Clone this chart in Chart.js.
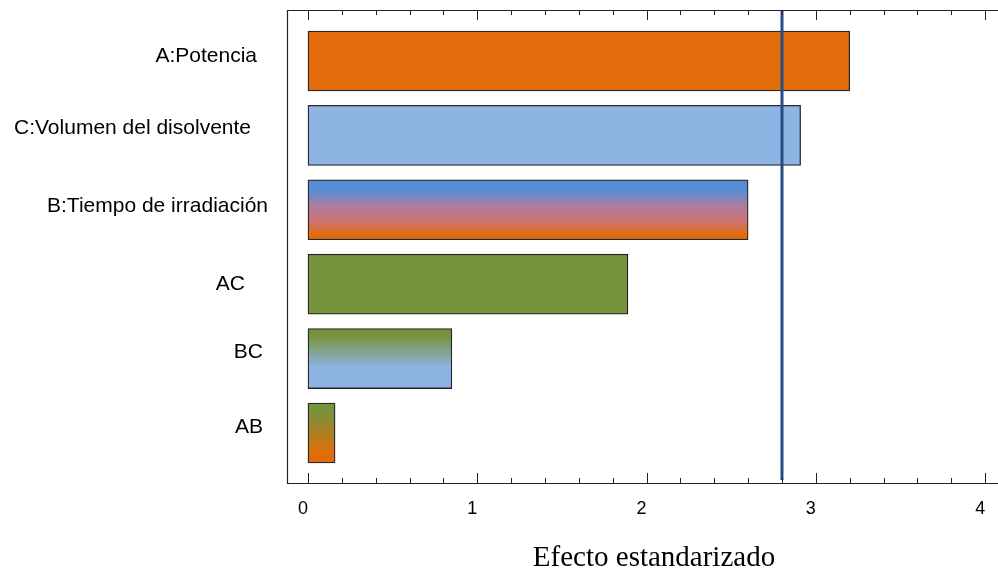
<!DOCTYPE html>
<html>
<head>
<meta charset="utf-8">
<script src="https://cdn.jsdelivr.net/npm/chart.js@4.4.1/dist/chart.umd.min.js"></script>
<style>
  html, body { margin: 0; padding: 0; background: #fff; overflow: hidden; }
  #wrap { width: 998px; height: 572px; position: relative; }
</style>
</head>
<body>
<div id="wrap"><canvas id="pareto"></canvas></div>
<script>
// data
const categories = ['A:Potencia', 'C:Volumen del disolvente', 'B:Tiempo de irradiación', 'AC', 'BC', 'AB'];
const effects = [3.20, 2.91, 2.60, 1.89, 0.85, 0.16];
const criticalValue = 2.80;
const xTickLabels = [0, 1, 2, 3, 4];
const axisTitle = 'Efecto estandarizado';

// styles
const orange = '#E36C0A', lightBlue = '#8EB4E3', blue = '#558ED5', olive = '#77933C';
const barFills = [
  [[0, orange], [1, orange]],
  [[0, lightBlue], [1, lightBlue]],
  [[0, blue], [0.18, blue], [0.45, '#B07C9C'], [0.72, '#D0736A'], [0.92, orange], [1, orange]],
  [[0, olive], [1, olive]],
  [[0, olive], [0.12, olive], [0.65, lightBlue], [1, lightBlue]],
  [[0, olive], [0.15, olive], [0.85, orange], [1, orange]]
];
const labelGap = [30, 36, 19, 42, 24, 24];   // distance of label end from the frame
const labelShift = [-5, -7, -4, 0, -6, -6];
const barHeight = 60;

function barFill(ctx) {
  const chart = ctx.chart;
  const stops = barFills[ctx.dataIndex] || [[0, orange], [1, orange]];
  const ys = chart.scales && chart.scales.y;
  if (!ys || !chart.chartArea) return stops[0][1];
  const c = ys.getPixelForValue(ctx.dataIndex);
  if (!isFinite(c)) return stops[0][1];
  const g = chart.ctx.createLinearGradient(0, c - barHeight / 2, 0, c + barHeight / 2);
  stops.forEach(s => g.addColorStop(s[0], s[1]));
  return g;
}

const frame = {
  id: 'frame',
  afterDatasetsDraw(chart) {
    const { ctx, chartArea: a, scales: { x, y } } = chart;
    ctx.save();
    // reference line
    const xc = x.getPixelForValue(criticalValue);
    ctx.strokeStyle = '#264B85';
    ctx.lineWidth = 3;
    ctx.beginPath();
    ctx.moveTo(xc, a.top);
    ctx.lineTo(xc, a.bottom - 3);
    ctx.stroke();
    // frame
    ctx.strokeStyle = '#222';
    ctx.lineWidth = 1.2;
    ctx.beginPath();
    ctx.moveTo(a.right, a.top + 0.5);
    ctx.lineTo(a.left + 0.5, a.top + 0.5);
    ctx.lineTo(a.left + 0.5, a.bottom + 0.5);
    ctx.lineTo(a.right, a.bottom + 0.5);
    ctx.stroke();
    // inward ticks every 0.2
    ctx.lineWidth = 1;
    for (let k = 0; k <= 20; k++) {
      const v = k * 0.2;
      if (v > x.max) break;
      const px = Math.round(x.getPixelForValue(v)) + 0.5;
      const len = k % 5 === 0 ? 10 : 5;
      ctx.beginPath();
      ctx.moveTo(px, a.top);
      ctx.lineTo(px, a.top + len);
      ctx.moveTo(px, a.bottom);
      ctx.lineTo(px, a.bottom - len);
      ctx.stroke();
    }
    // category labels
    ctx.fillStyle = '#000';
    ctx.font = '21px "Liberation Sans", Arial, sans-serif';
    ctx.textAlign = 'right';
    ctx.textBaseline = 'middle';
    categories.forEach((c, i) => {
      ctx.fillText(c, a.left - labelGap[i], y.getPixelForValue(i) + labelShift[i]);
    });
    // axis title
    ctx.font = '29px "Liberation Serif", "Times New Roman", serif';
    ctx.textAlign = 'center';
    ctx.fillText(axisTitle, 654, 558);
    ctx.restore();
  }
};

new Chart(document.getElementById('pareto'), {
  type: 'bar',
  data: {
    datasets: [{
      data: effects.map((v, i) => ({ x: v, y: i })),
      backgroundColor: barFill,
      borderColor: '#262626',
      borderWidth: 1.3,
      borderSkipped: false,
      barThickness: barHeight
    }]
  },
  options: {
    indexAxis: 'y',
    responsive: true,
    maintainAspectRatio: false,
    animation: false,
    layout: { padding: { left: 287, top: 10, right: 0, bottom: 0 } },
    plugins: { legend: { display: false }, tooltip: { enabled: false } },
    scales: {
      x: {
        type: 'linear',
        min: -0.124,
        max: 4.076,
        grid: { display: false },
        border: { display: false },
        afterBuildTicks(scale) {
          scale.ticks = xTickLabels.map(v => ({ value: v }));
        },
        afterFit(scale) {
          scale.height = 89;
          scale.paddingLeft = 0;
          scale.paddingRight = 0;
        },
        ticks: {
          autoSkip: false,
          maxRotation: 0,
          padding: 7,
          labelOffset: -5,
          color: '#000',
          font: { family: '"Liberation Sans", Arial, sans-serif', size: 18 }
        }
      },
      y: {
        type: 'linear',
        reverse: true,
        offset: false,
        min: -0.685,
        max: 5.672,
        display: false
      }
    }
  },
  plugins: [frame]
});
</script>
</body>
</html>
